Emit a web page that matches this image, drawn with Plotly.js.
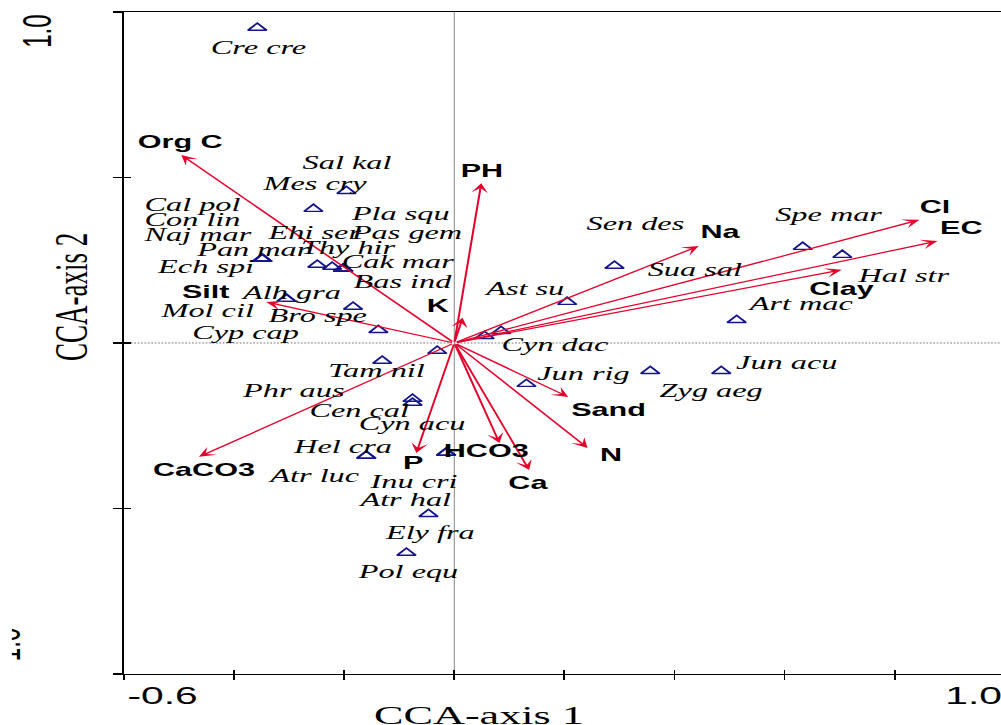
<!DOCTYPE html>
<html>
<head>
<meta charset="utf-8">
<script src="https://cdn.plot.ly/plotly-3.0.1.min.js"></script>
<style>
  html, body { margin: 0; padding: 0; background: #fff; overflow: hidden; width: 1001px; height: 725px; }
  /* the biplot is laid out narrow and widened horizontally; the far left strip is trimmed */
  #chart { width: 592px; height: 725px; transform: scaleX(1.7); transform-origin: 0 0; clip-path: inset(0 0 0 7px); }
</style>
</head>
<body>
<div id="chart"></div>
<script>
// Environmental variables (biplot arrows): CCA axis 1 and axis 2 scores
const envNames = ["Org C", "PH", "Na", "Cl", "EC", "Clay", "Silt", "K", "CaCO3", "P", "HCO3", "Ca", "N", "Sand"];
const envAxis1 = [-0.496, 0.049, 0.444, 0.845, 0.878, 0.704, -0.342, 0.015, -0.464, -0.069, 0.082, 0.136, 0.242, 0.207];
const envAxis2 = [0.568, 0.483, 0.293, 0.372, 0.308, 0.221, 0.124, 0.076, -0.344, -0.332, -0.302, -0.384, -0.317, -0.163];

// Species scores
const speciesNames = ["Cre cre", "Sal kal", "Mes cry", "Cal pol", "Con lin", "Naj mar", "Pan mar", "Ech spi",
  "Ehi ser", "Thy hir", "Pas gem", "Pla squ", "Cak mar", "Bas ind", "Alh gra", "Mol cil", "Bro spe", "Cyp cap",
  "Phr aus", "Tam nil", "Cen cal", "Cyn acu", "Hel cra", "Atr luc", "Inu cri", "Atr hal", "Ely fra", "Pol equ",
  "Sen des", "Sua sal", "Ast su", "Cyn dac", "Jun rig", "Zyg aeg", "Jun acu", "Spe mar", "Hal str", "Art mac"];
const speciesAxis1 = [-0.358, -0.196, -0.256, -0.349, -0.349, -0.349, -0.349, -0.349,
  -0.249, -0.222, -0.202, -0.202, -0.202, -0.202, -0.305, -0.305, -0.184, -0.138,
  -0.031, -0.131, -0.076, -0.076, -0.160, -0.160, -0.015, -0.015, -0.047, -0.087,
  0.291, 0.085, 0.205, 0.055, 0.131, 0.356, 0.485, 0.633, 0.705, 0.513];
const speciesAxis2 = [0.952, 0.459, 0.405, 0.254, 0.254, 0.254, 0.254, 0.254,
  0.236, 0.230, 0.224, 0.224, 0.224, 0.224, 0.133, 0.133, 0.109, 0.039,
  -0.024, -0.054, -0.169, -0.181, -0.341, -0.341, -0.332, -0.332, -0.517, -0.634,
  0.233, 0.036, 0.124, 0.021, -0.124, -0.085, -0.085, 0.290, 0.266, 0.069];

// Axis tick labels and titles
const xTickLabels = ["-0.6", "1.0"];
const yTickLabels = ["-1.0", "1.0"];
const xTitle = "CCA-axis 1";
const yTitle = "CCA-axis 2";

// Label placement (plot coordinates of each label's centre), kept apart from the scores
const speciesLabelX = [-0.355, -0.195, -0.253, -0.476, -0.476, -0.467, -0.365, -0.453,
  -0.253, -0.191, -0.087, -0.098, -0.102, -0.093, -0.296, -0.451, -0.247, -0.378,
  -0.293, -0.140, -0.173, -0.075, -0.204, -0.255, -0.076, -0.091, -0.047, -0.085,
  0.329, 0.436, 0.125, 0.184, 0.233, 0.467, 0.604, 0.680, 0.816, 0.627];
const speciesLabelY = [0.894, 0.544, 0.483, 0.417, 0.372, 0.329, 0.284, 0.230,
  0.335, 0.290, 0.335, 0.390, 0.245, 0.187, 0.154, 0.097, 0.082, 0.033,
  -0.142, -0.082, -0.205, -0.242, -0.314, -0.399, -0.417, -0.474, -0.574, -0.689,
  0.360, 0.221, 0.166, -0.006, -0.091, -0.142, -0.060, 0.387, 0.205, 0.118];
const envLabelX = [-0.498, 0.049, 0.485, 0.873, 0.922, 0.702, -0.451, -0.029, -0.455, -0.075, 0.058, 0.135, 0.285, 0.280];
const envLabelY = [0.607, 0.520, 0.335, 0.411, 0.347, 0.163, 0.154, 0.112, -0.384, -0.363, -0.326, -0.423, -0.338, -0.202];

const RED = "#e3002b";
const NAVY = "#14148c";
const SERIF = "Liberation Serif, Times New Roman, serif";
const SANS = "Liberation Sans, Arial, sans-serif";

const traces = [{
  type: "scatter",
  mode: "markers",
  x: speciesAxis1,
  y: speciesAxis2,
  text: speciesNames,
  hoverinfo: "text",
  marker: { symbol: "triangle-up-open", size: 9.5, color: NAVY, line: { color: NAVY, width: 1.4 } },
  showlegend: false
}];

const annotations = [];

// arrows from the origin to each variable's score
envNames.forEach((name, i) => {
  annotations.push({
    xref: "x", yref: "y", axref: "x", ayref: "y",
    x: envAxis1[i], y: envAxis2[i], ax: 0, ay: 0,
    text: "", showarrow: true, arrowhead: 3, arrowsize: 1.35, arrowwidth: 1.2,
    arrowcolor: RED, standoff: 0, startstandoff: 0
  });
});

// variable names
envNames.forEach((name, i) => {
  annotations.push({
    xref: "x", yref: "y", x: envLabelX[i], y: envLabelY[i],
    text: "<b>" + name + "</b>", showarrow: false, xanchor: "center", yanchor: "middle",
    font: { family: SANS, size: 18, color: "#000" }
  });
});

// species names
speciesNames.forEach((name, i) => {
  annotations.push({
    xref: "x", yref: "y", x: speciesLabelX[i], y: speciesLabelY[i],
    text: "<i>" + name + "</i>", showarrow: false, xanchor: "center", yanchor: "middle",
    font: { family: SERIF, size: 19, color: "#000" }
  });
});

// axis end labels
annotations.push({
  xref: "x", yref: "paper", x: -0.6, y: 0, xanchor: "left", yanchor: "top", yshift: -6,
  text: xTickLabels[0], showarrow: false, font: { family: SANS, size: 24, color: "#000" }
});
annotations.push({
  xref: "x", yref: "paper", x: 1.0, y: 0, xanchor: "right", yanchor: "top", yshift: -6,
  text: xTickLabels[1], showarrow: false, font: { family: SANS, size: 24, color: "#000" }
});
annotations.push({
  xref: "paper", yref: "y", x: 0, y: 0.94, xshift: -51, xanchor: "center", yanchor: "middle",
  textangle: -90, text: yTickLabels[1], showarrow: false, font: { family: SANS, size: 24, color: "#000" }
});
annotations.push({
  xref: "paper", yref: "y", x: 0, y: -0.925, xshift: -70, xanchor: "center", yanchor: "middle",
  textangle: -90, text: yTickLabels[0], showarrow: false, font: { family: SANS, size: 24, color: "#000" }
});

// axis titles
annotations.push({
  xref: "x", yref: "paper", x: 0.045, y: 0, xanchor: "center", yanchor: "top", yshift: -25,
  text: xTitle, showarrow: false, font: { family: SERIF, size: 26, color: "#000" }
});
annotations.push({
  xref: "paper", yref: "y", x: 0, y: 0.139, xshift: -31, xanchor: "center", yanchor: "middle",
  textangle: -90, text: yTitle, showarrow: false, font: { family: SERIF, size: 27, color: "#000" }
});

const axisCommon = {
  showgrid: false, zeroline: false, showline: true, mirror: true,
  linecolor: "#000", linewidth: 1.3, ticks: "outside", ticklen: 5, tickwidth: 1.1,
  tickcolor: "#000", showticklabels: false, fixedrange: true
};

const layout = {
  width: 592, height: 725,
  margin: { l: 73, r: 1, t: 12, b: 51, pad: 0 },
  paper_bgcolor: "#fff", plot_bgcolor: "#fff",
  xaxis: Object.assign({}, axisCommon, { range: [-0.6, 1.0], tickmode: "linear", tick0: -0.6, dtick: 0.2 }),
  yaxis: Object.assign({}, axisCommon, { range: [-1.0, 1.0], tickmode: "linear", tick0: -1.0, dtick: 0.5 }),
  // inner halves of the tick marks, so that the ticks cross the axis lines
  xaxis2: { overlaying: "x", anchor: "y", side: "bottom", range: [-0.6, 1.0], tickmode: "linear", tick0: -0.6, dtick: 0.2,
    ticks: "inside", ticklen: 4, tickwidth: 1.1, tickcolor: "#000", showticklabels: false, showgrid: false,
    zeroline: false, showline: false, fixedrange: true },
  yaxis2: { overlaying: "y", anchor: "x", side: "left", range: [-1.0, 1.0], tickmode: "linear", tick0: -1.0, dtick: 0.5,
    ticks: "inside", ticklen: 4, tickwidth: 1.1, tickcolor: "#000", showticklabels: false, showgrid: false,
    zeroline: false, showline: false, fixedrange: true },
  shapes: [
    { type: "line", xref: "paper", yref: "y", x0: 0, x1: 1, y0: 0, y1: 0, layer: "below",
      line: { color: "#777", width: 1, dash: "1px,1px" } },
    { type: "line", xref: "x", yref: "paper", x0: 0, x1: 0, y0: 0, y1: 1, layer: "below",
      line: { color: "#9a9a9a", width: 0.7 } }
  ],
  annotations: annotations,
  showlegend: false
};

// an empty trace on the overlay axes so they get drawn
traces.push({ type: "scatter", mode: "markers", x: [], y: [], xaxis: "x2", yaxis: "y2", hoverinfo: "skip", showlegend: false });

Plotly.newPlot("chart", traces, layout, { staticPlot: true, responsive: false, displayModeBar: false });
</script>
</body>
</html>
